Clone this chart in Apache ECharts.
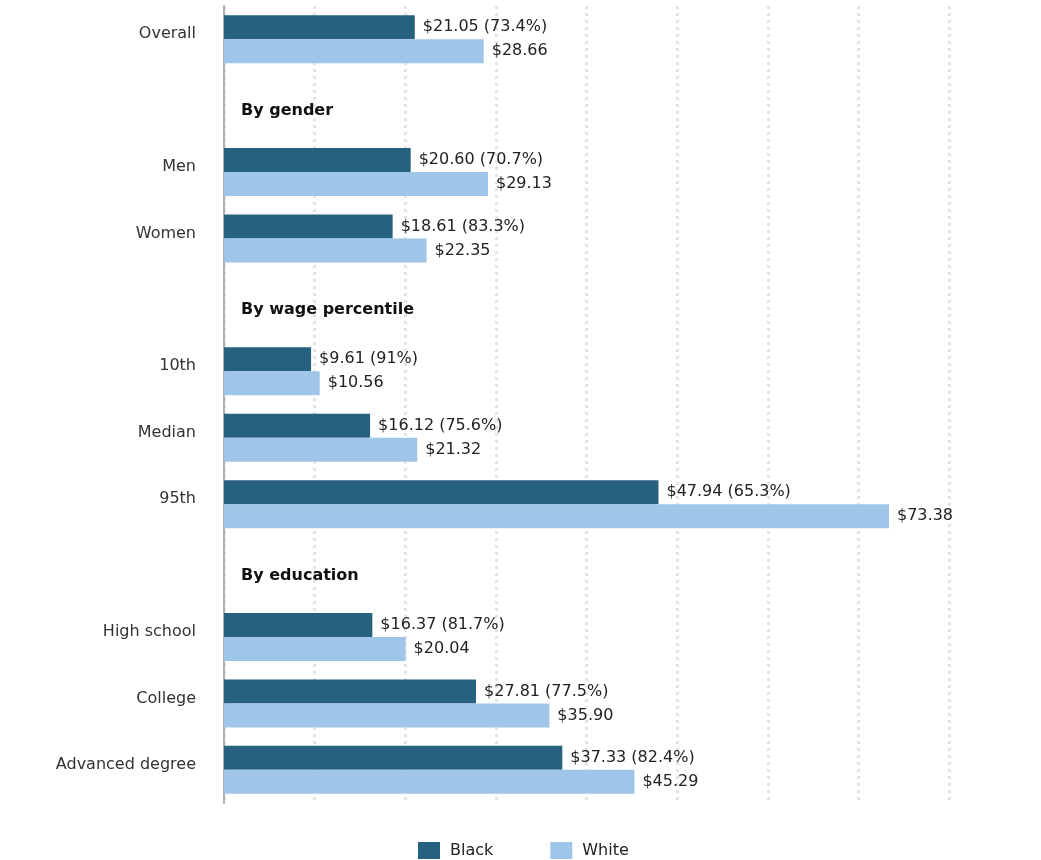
<!DOCTYPE html>
<html><head><meta charset="utf-8">
<script src="https://cdn.jsdelivr.net/npm/echarts@6/dist/echarts.min.js"></script>
<style>html,body{margin:0;padding:0;background:#fff}#c{width:1041px;height:860px}</style>
</head><body><div id="c"></div>
<script>
const categories = ['Overall','By gender','Men','Women','By wage percentile','10th','Median','95th','By education','High school','College','Advanced degree'];
const headers = ['By gender','By wage percentile','By education'];
const blackWages = [21.05,null,20.60,18.61,null,9.61,16.12,47.94,null,16.37,27.81,37.33];
const whiteWages = [28.66,null,29.13,22.35,null,10.56,21.32,73.38,null,20.04,35.90,45.29];
const blackShare = ['73.4%',null,'70.7%','83.3%',null,'91%','75.6%','65.3%',null,'81.7%','77.5%','82.4%'];
const xTicks = [0,10,20,30,40,50,60,70,80];

const FONT = 'DejaVu Sans';
const DARK = '#26617f', LIGHT = '#9fc5e8';
const chart = echarts.init(document.getElementById('c'), null, {renderer:'canvas'});
chart.setOption({
  animation:false,
  textStyle:{fontFamily:FONT},
  grid:{left:224, right:92, top:6, bottom:57, containLabel:false},
  legend:{top:837, left:413, itemWidth:22, itemHeight:17, itemGap:57, icon:'rect',
    textStyle:{fontFamily:FONT, fontSize:16, color:'#222', padding:[0,0,0,5]}, data:['Black','White']},
  xAxis:{type:'value', min:xTicks[0], max:xTicks[xTicks.length-1], interval:10,
    axisLabel:{show:false}, axisLine:{show:false}, axisTick:{show:false},
    splitLine:{show:true, lineStyle:{color:'#e4e4e4', width:3, type:[3,4]}}},
  yAxis:{type:'category', data:categories, inverse:true,
    axisLine:{show:true, lineStyle:{color:'#b0b0b0', width:2}}, axisTick:{show:false},
    axisLabel:{margin:28, fontFamily:FONT, fontSize:16, color:'#333', verticalAlign:'bottom', lineHeight:10,
      formatter:v=>headers.includes(v)?'':v}},
  series:[
    {name:'Black', type:'bar', data:blackWages, barWidth:24, barGap:'0%', itemStyle:{color:DARK},
     z:3,
     label:{show:true, position:'right', distance:8, fontFamily:FONT, fontSize:16, color:'#222',
       formatter:p=>'$'+p.value.toFixed(2)+' ('+blackShare[p.dataIndex]+')'}},
    {name:'White', type:'bar', data:whiteWages, barWidth:24, itemStyle:{color:LIGHT},
     z:3,
     label:{show:true, position:'right', distance:8, fontFamily:FONT, fontSize:16, color:'#222',
       formatter:p=>'$'+p.value.toFixed(2)}},
    {name:'headers', type:'scatter', symbolSize:0, silent:true, legendHoverLink:false,
     itemStyle:{color:'#111', opacity:1},
     data:headers.map(h=>[0,h]),
     label:{show:true, position:'right', offset:[12,5], fontFamily:FONT, fontSize:16, fontWeight:'bold', color:'#111', opacity:1,
       formatter:p=>p.value[1]}}
  ]
});
</script></body></html>
